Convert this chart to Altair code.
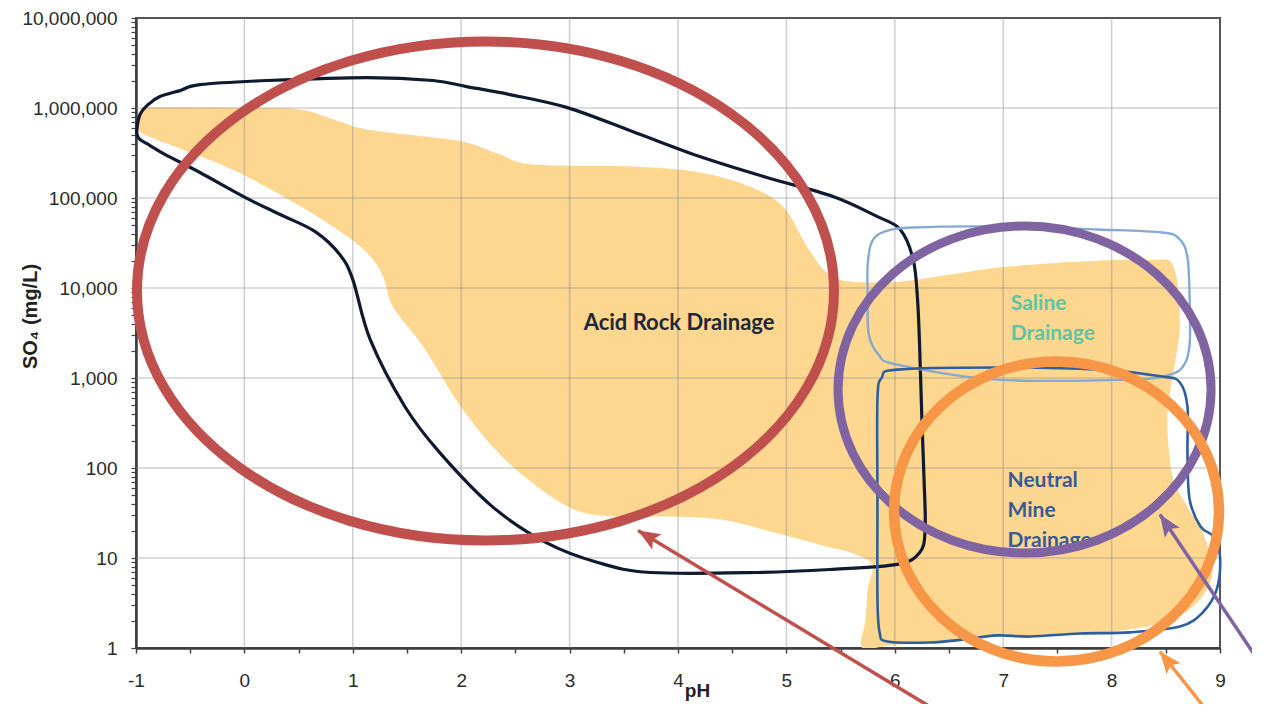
import altair as alt
import pandas as pd

# ---------------- data ----------------
# Orange envelope of observed waters (pH, SO4 mg/L)
fill_ph = [-0.98, -0.94, -0.87, 0.0, 0.51, 0.82, 1.13, 1.74, 2.05, 2.36, 2.66, 3.58, 4.20, 4.66,
           4.97, 5.19, 5.37, 5.59, 6.05, 6.51, 6.97, 7.71, 8.35, 8.57, 8.63, 8.57, 8.52, 8.52,
           8.57, 8.70, 8.84, 8.93, 8.88, 8.72, 8.47, 8.01, 7.43, 6.97, 6.51, 5.96, 5.70, 5.73,
           5.75, 5.79, 5.59, 5.37, 4.89, 4.40, 3.91, 3.43, 3.04, 2.62, 2.29, 1.97, 1.65, 1.37,
           1.28, 1.13, 0.82, 0.36, -0.11, -0.57, -0.81]
fill_so4 = [575000, 910000, 1010000, 1000000, 960000, 745000, 577000, 470000, 414000, 304000,
            236000, 224000, 192000, 134000, 80000, 29000, 14900, 11800, 11800, 14100, 16900,
            19700, 20500, 17500, 4100, 1150, 482, 207, 74, 37, 19.2, 8.1, 4.5, 2.7, 1.92, 1.52,
            1.38, 1.34, 1.21, 1.07, 1.0, 2.07, 4.5, 8.5, 11.5, 13.4, 19.2, 26.8, 28.9, 28.9,
            34.6, 74, 173, 535, 2240, 6200, 13400, 24800, 48000, 104000, 207000, 346000, 447000]

# Acid rock drainage outline (navy)
ard_ph = [-0.99, -0.963, -0.889, -0.779, -0.594, -0.41, 0.21, 1.13, 1.74, 2.05, 2.45, 2.98,
          3.58, 4.20, 4.82, 5.43, 5.84, 6.05, 6.17, 6.21, 6.23, 6.25, 6.27, 6.28, 6.23, 6.02,
          5.40, 4.72, 3.75, 3.26, 2.78, 2.29, 1.80, 1.48, 1.16, 1.00, 0.88, 0.65, 0.33, 0.01,
          -0.41, -0.73, -0.87, -0.963, -0.99]
ard_so4 = [607000, 847000, 1090000, 1340000, 1560000, 1820000, 2020000, 2180000, 2020000,
           1730000, 1410000, 1010000, 548000, 289000, 169000, 104000, 62000, 44700, 20700, 7400,
           2070, 346, 74, 20.7, 11.5, 8.5, 7.45, 6.9, 6.9, 8.9, 14.9, 37, 149, 482, 2680, 12400,
           23500, 42500, 65600, 101000, 192000, 304000, 383000, 447000, 508000]

# Saline drainage outline (light blue)
sal_ph = [5.75, 5.79, 5.91, 6.17, 6.94, 7.87, 8.47, 8.63, 8.70, 8.72, 8.72, 8.67, 8.54, 8.17,
          6.94, 6.02, 5.85, 5.76, 5.75]
sal_so4 = [18200, 32900, 42500, 47000, 48200, 44700, 41400, 34600, 21800, 7450, 2360, 1410,
           1090, 960, 960, 1410, 1820, 3040, 7450]

# Neutral mine drainage outline (blue)
nmd_ph = [5.84, 5.88, 6.02, 6.94, 7.87, 8.47, 8.63, 8.70, 8.70, 8.72, 8.82, 8.94, 9.00, 8.97,
          8.84, 8.63, 8.17, 7.71, 7.25, 6.94, 6.63, 6.32, 5.93, 5.86, 5.84, 5.84]
nmd_so4 = [577, 1010, 1240, 1310, 1240, 1040, 891, 482, 149, 44.7, 22.4, 17.3, 10.4, 4.47,
           2.48, 1.73, 1.49, 1.45, 1.34, 1.38, 1.24, 1.15, 1.18, 1.49, 3.46, 44.7]

# Highlight ellipses (centres): red, purple, orange
ell_ph = [2.224, 7.197, 7.492]
ell_so4 = [9270, 745, 32.9]

# Arrows: tip and tail
arr_ph = [3.631, 8.446, 8.446]
arr_so4 = [20.2, 30.4, 0.914]
arr_ph2 = [6.675, 9.646, 9.018]
arr_so42 = [0.124, 0.218, 0.124]

# Region labels (position of the first line)
lab_text = ["Acid Rock Drainage", "Saline\nDrainage", "Neutral\nMine\nDrainage"]
lab_ph = [4.01, 7.07, 7.04]
lab_so4 = [4100, 6560, 72.6]

grid_ph = [0, 1, 2, 3, 4, 5, 6, 7, 8]
grid_so4 = [10, 100, 1000, 10000, 100000, 1000000]
x_tick_values = [-1, -0.5, 0, 0.5, 1, 1.5, 2, 2.5, 3, 3.5, 4, 4.5, 5, 5.5, 6, 6.5, 7, 7.5, 8, 8.5, 9]
y_tick_values = [m * 10 ** k for k in range(7) for m in range(1, 10)] + [10 ** 7]

# ---------------- styles ----------------
W, H = 1084, 630
RED, PURPLE, ORANGE = "#c0504d", "#8064a2", "#f79646"
FILL = "#fdd68f"

xscale = alt.Scale(domain=[-1, 9], nice=False, zero=False)
yscale = alt.Scale(type="log", domain=[1, 10 ** 7], nice=False)

xaxis = alt.Axis(values=x_tick_values,
                 labelExpr="datum.value % 1 == 0 ? '' + datum.value : ''",
                 grid=False, tickSize=5, tickColor="#444", tickWidth=1.5,
                 domainColor="#3c3c3c", domainWidth=2.5,
                 labelFont="Liberation Sans", labelFontSize=19, labelColor="#2a2a2a",
                 labelPadding=18, labelOverlap=False, labelFlush=False,
                 title="pH", titleFont="Liberation Sans", titleFontSize=19,
                 titleFontWeight="bold", titleColor="#222",
                 titleX=561, titleY=42, titleAlign="center", titleBaseline="middle")
yaxis = alt.Axis(values=y_tick_values,
                 labelExpr="abs(log(datum.value)/LN10 - round(log(datum.value)/LN10)) < 0.001 ? format(datum.value, ',') : ''",
                 grid=False, tickSize=5, tickColor="#444", tickWidth=1.2,
                 domainColor="#3c3c3c", domainWidth=2.5,
                 labelFont="Liberation Sans", labelFontSize=19, labelColor="#2a2a2a",
                 labelPadding=14, labelOverlap=False, labelFlush=False,
                 title="SO\u2084 (mg/L)", titleFont="Liberation Sans", titleFontSize=20,
                 titleFontWeight="bold", titleColor="#222", titleAngle=270,
                 titleX=-106, titleY=298, titleAlign="center", titleBaseline="middle")


def X(f):
    return alt.X(f"{f}:Q", scale=xscale, axis=xaxis)


def Y(f):
    return alt.Y(f"{f}:Q", scale=yscale, axis=yaxis)


def poly(ph, so4):
    return pd.DataFrame({"ph": ph, "so4": so4, "i": list(range(len(ph)))})


def ellipse_path(r):
    k = 0.5523
    return (f"M1,0 C1,{k*r:.4f} {k:.4f},{r:.4f} 0,{r:.4f} "
            f"C{-k:.4f},{r:.4f} -1,{k*r:.4f} -1,0 "
            f"C-1,{-k*r:.4f} {-k:.4f},{-r:.4f} 0,{-r:.4f} "
            f"C{k:.4f},{-r:.4f} 1,{-k*r:.4f} 1,0 Z")


HEAD = "M0,0 L-0.9,2.2 L0,1.75 L0.9,2.2 Z"

layers = []

# orange envelope
layers.append(alt.Chart(poly(fill_ph, fill_so4)).mark_line(
    interpolate="cardinal-closed", fill=FILL, strokeOpacity=0, clip=True
).encode(x=X("ph"), y=Y("so4"), order="i:Q"))

# grid on top of fill
layers.append(alt.Chart(pd.DataFrame({"ph": grid_ph})).mark_rule(
    color="#8c8c8c", opacity=0.4, strokeWidth=1.6).encode(x=X("ph")))
layers.append(alt.Chart(pd.DataFrame({"so4": grid_so4})).mark_rule(
    color="#8c8c8c", opacity=0.4, strokeWidth=1.6).encode(y=Y("so4")))

# outlines
layers.append(alt.Chart(poly(ard_ph, ard_so4)).mark_line(
    interpolate="cardinal-closed", color="#0f1a30", strokeWidth=3.2
).encode(x=X("ph"), y=Y("so4"), order="i:Q"))
layers.append(alt.Chart(poly(sal_ph, sal_so4)).mark_line(
    interpolate="cardinal-closed", color="#86a9d4", strokeWidth=2.4
).encode(x=X("ph"), y=Y("so4"), order="i:Q"))
layers.append(alt.Chart(poly(nmd_ph, nmd_so4)).mark_line(
    interpolate="cardinal-closed", color="#2c5f9e", strokeWidth=2.6
).encode(x=X("ph"), y=Y("so4"), order="i:Q"))

# labels
lab_styles = [("center", "#1e2838", 22), ("left", "#5fc4a4", 21), ("left", "#3a5a98", 21)]
for i, (al, col, fs) in enumerate(lab_styles):
    layers.append(alt.Chart(pd.DataFrame({"ph": [lab_ph[i]], "so4": [lab_so4[i]], "t": [lab_text[i]]}))
                  .mark_text(align=al, baseline="middle", font="Lato", fontWeight="bold",
                             fontSize=fs, color=col, lineBreak="\n", lineHeight=30)
                  .encode(x=X("ph"), y=Y("so4"), text="t:N"))

# highlight ellipses: (colour, half-width px, aspect, stroke)
ell_styles = [(RED, 348.5, 249.5 / 348.5, 10), (PURPLE, 186.5, 163.5 / 186.5, 9),
              (ORANGE, 162.5, 150 / 162.5, 10.5)]
for i, (col, rx, asp, sw) in enumerate(ell_styles):
    layers.append(alt.Chart(pd.DataFrame({"ph": [ell_ph[i]], "so4": [ell_so4[i]]}))
                  .mark_point(shape=ellipse_path(asp), filled=False, size=4 * rx * rx,
                              color=col, strokeWidth=sw, opacity=1)
                  .encode(x=X("ph"), y=Y("so4")))

# arrows
arr_styles = [(RED, 301.1), (PURPLE, 325.9), (ORANGE, 321.5)]
for i, (col, ang) in enumerate(arr_styles):
    d = pd.DataFrame({"ph": [arr_ph[i]], "so4": [arr_so4[i]],
                      "ph2": [arr_ph2[i]], "so42": [arr_so42[i]]})
    layers.append(alt.Chart(d).mark_rule(color=col, strokeWidth=3.5)
                  .encode(x=X("ph"), y=Y("so4"), x2=alt.X2("ph2"), y2=alt.Y2("so42")))
    layers.append(alt.Chart(d).mark_point(shape=HEAD, filled=True, size=400, angle=ang,
                                          color=col, opacity=1, strokeWidth=0)
                  .encode(x=X("ph"), y=Y("so4")))

chart = alt.layer(*layers).properties(
    width=W, height=H,
    autosize=alt.AutoSizeParams(type="none"),
    padding={"left": 128, "top": 10, "right": 32, "bottom": 56},
    background="white",
).configure_view(stroke="#555555", strokeWidth=2)

chart.save("out.html", embed_options={"renderer": "svg", "actions": False})
